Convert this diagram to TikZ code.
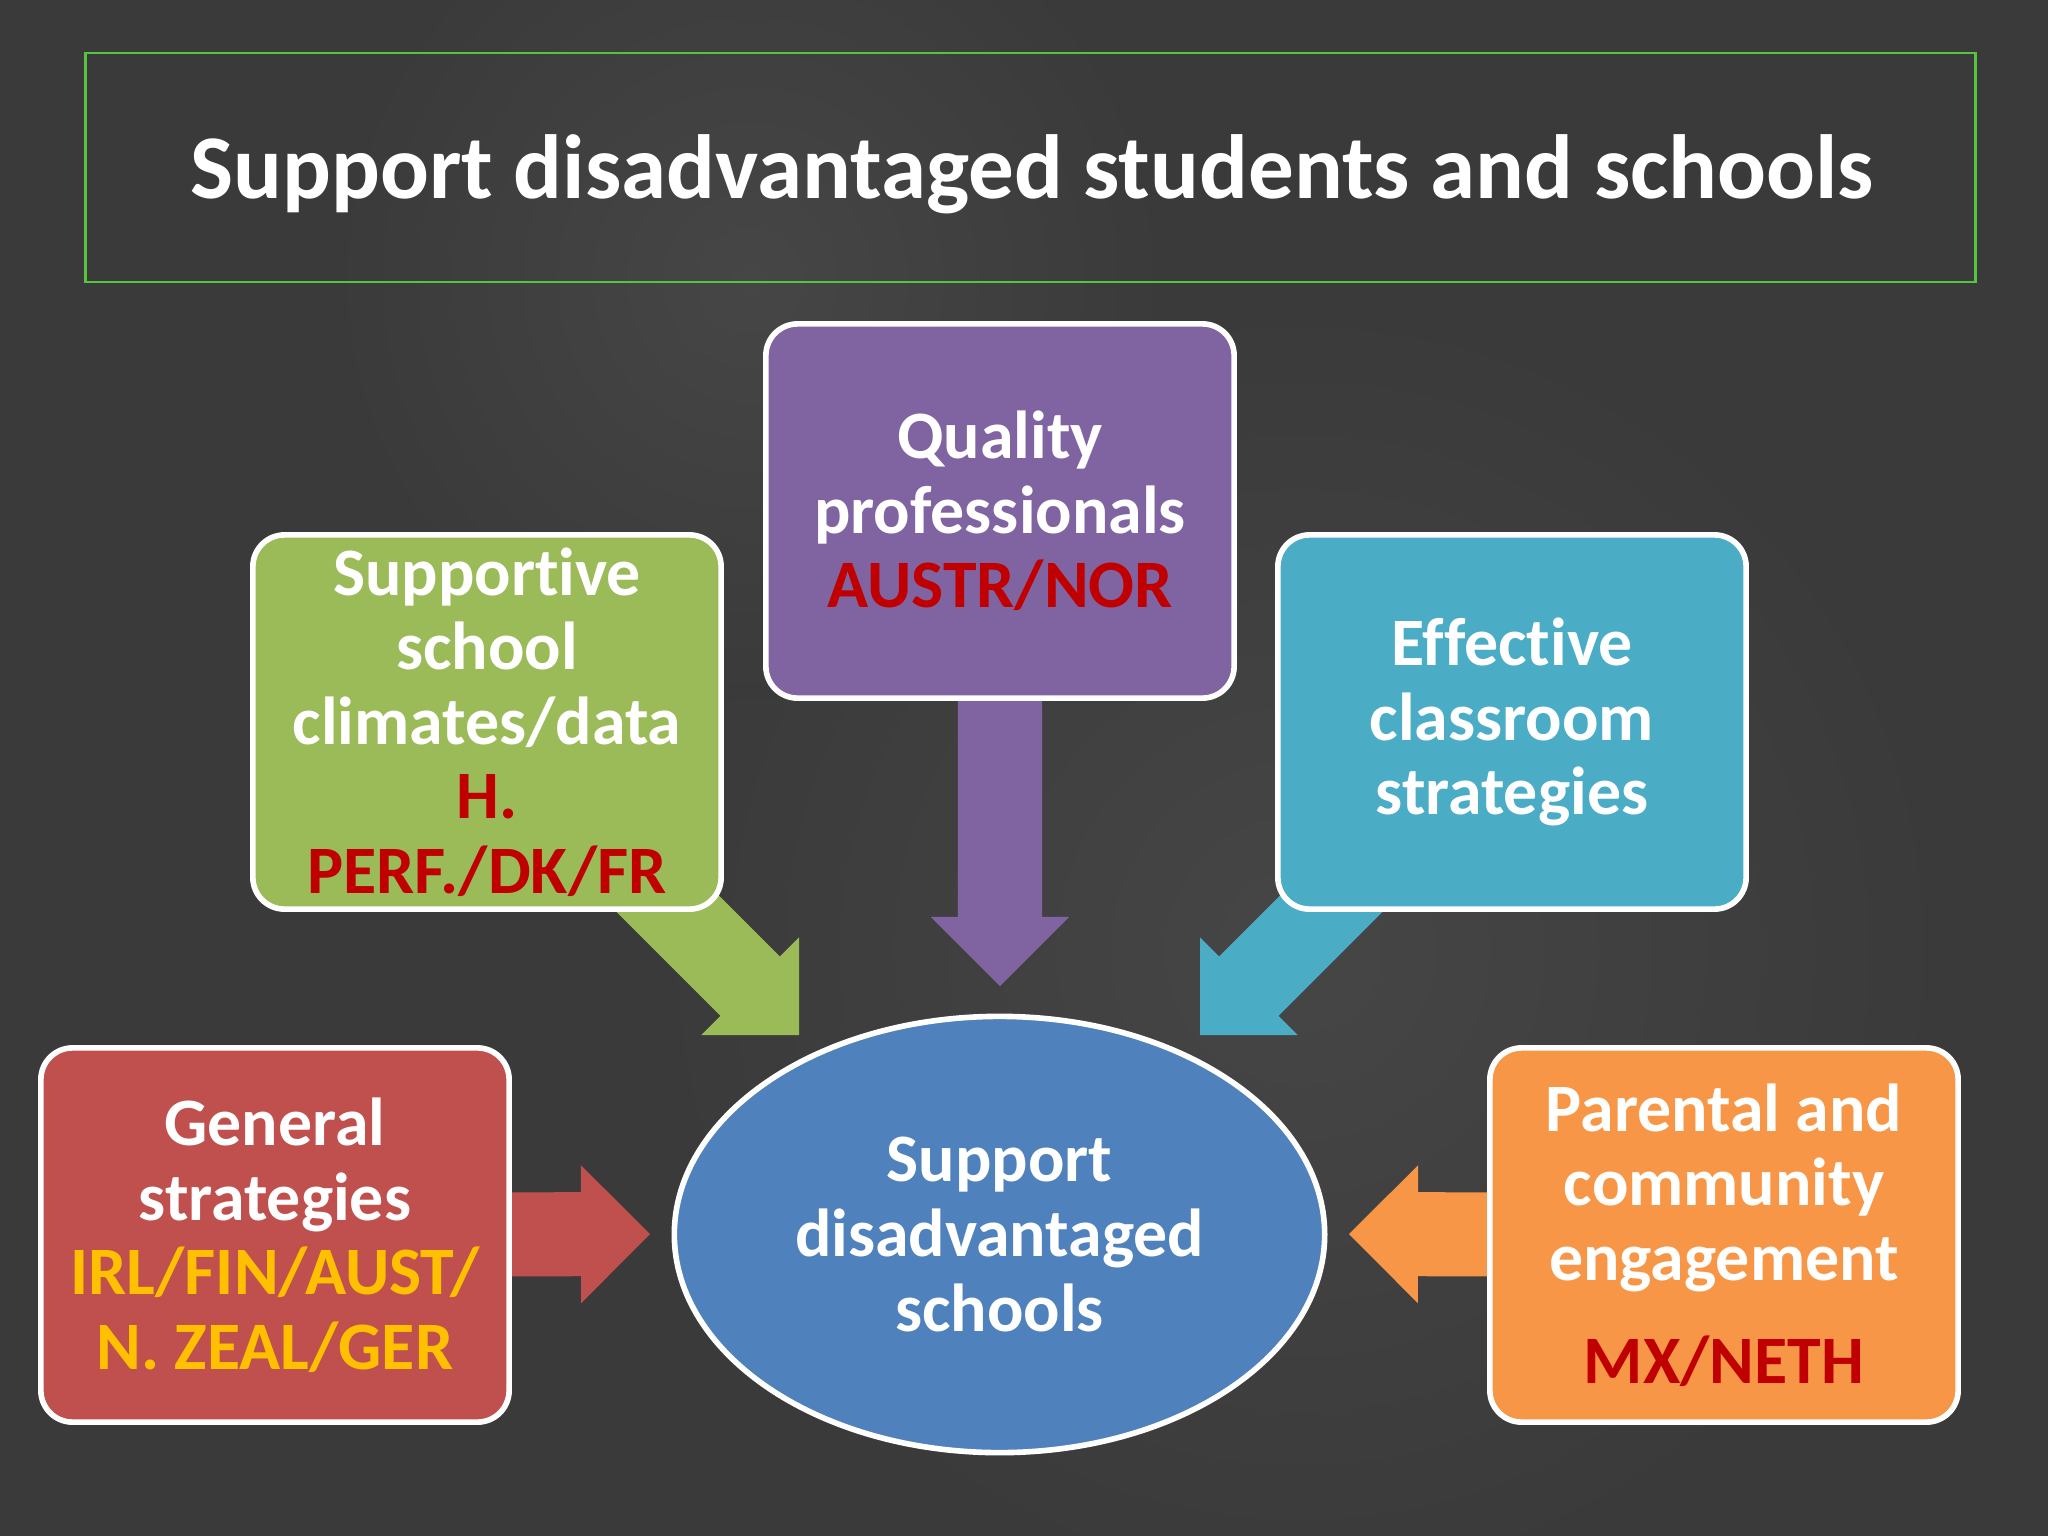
\documentclass[tikz,border=0pt]{standalone}
\usepackage{fontspec}
\setmainfont{Carlito}[Ligatures=NoCommon]
\usetikzlibrary{shapes.geometric,calc}
\definecolor{bgc}{HTML}{3A3A3A}
\definecolor{bgl}{HTML}{464646}
\definecolor{tgreen}{HTML}{55C43F}
\definecolor{cpurple}{HTML}{8064A2}
\definecolor{cgreen}{HTML}{9BBB59}
\definecolor{cblue}{HTML}{4BACC6}
\definecolor{cred}{HTML}{C0504D}
\definecolor{corange}{HTML}{F79646}
\definecolor{cell}{HTML}{4F81BD}
\definecolor{dred}{HTML}{C00000}
\definecolor{gold}{HTML}{FFC000}
\pgfdeclarelayer{bgpage}
\pgfdeclarelayer{arrows}
\pgfsetlayers{bgpage,arrows,main}
\newcommand\boxfont{\bfseries\fontsize{19.3}{21.2}\selectfont}
\newcommand\titlefont{\bfseries\fontsize{25.9}{30}\selectfont}
\tikzset{
  box/.style={draw=white, line width=1.6pt, rounded corners=9pt,
    minimum width=4.68cm, minimum height=3.74cm, inner sep=0pt,
    align=center, text=white, font=\boxfont},
  blob/.style={ellipse, draw=white, line width=1.6pt, fill=cell,
    minimum width=6.5cm, minimum height=4.36cm, inner sep=0pt,
    align=center, text=white, font=\boxfont},
  titlebox/.style={draw=tgreen, line width=0.7pt, minimum width=18.89cm,
    minimum height=2.29cm, inner sep=0pt},
  titletext/.style={text=white, font=\titlefont, inner sep=0pt}
}
\newcommand\blockarrow[3]{%
  \path (#2) coordinate (ba-s) (#3) coordinate (ba-t);
  \coordinate (ba-m) at ($(ba-t)!0.69cm!(ba-s)$);
  \fill[#1] ($(ba-s)!0.42cm!90:(ba-t)$) -- ($(ba-m)!0.42cm!90:(ba-t)$)
    -- ($(ba-m)!0.69cm!90:(ba-t)$) -- (ba-t)
    -- ($(ba-m)!0.69cm!-90:(ba-t)$) -- ($(ba-m)!0.42cm!-90:(ba-t)$)
    -- ($(ba-s)!0.42cm!-90:(ba-t)$) -- cycle;
}
\begin{document}
\begin{tikzpicture}[x=0.01cm,y=-0.01cm]
\useasboundingbox (0,0) rectangle (2048,1536);
\begin{pgfonlayer}{bgpage}
  \fill[bgc] (0,0) rectangle (2048,1536);
  \shade[inner color=bgl, outer color=bgc] (1300,950) circle [radius=650];
  \shade[inner color=bgl, outer color=bgc] (750,280) circle [radius=420];
\end{pgfonlayer}

% title
\node[titlebox] (title) at (1030.5,167.5) {};
\node[titletext, anchor=base] (titletxt) at (1032,198)
  {Support disadvantaged students and schools};

% boxes
\node[box, fill=cpurple] (qual) at (1000,511)
  {Quality\\professionals\\{\color{dred}AUSTR/NOR}};
\node[box, fill=cgreen] (clim) at (487,722)
  {Supportive\\school\\climates/data\\{\color{dred}H.}\\{\color{dred}PERF./DK/FR}};
\node[box, fill=cblue] (class) at (1512,722)
  {Effective\\classroom\\strategies};
\node[box, fill=cred] (gen) at (275,1235)
  {General\\strategies\\{\color{gold}IRL/FIN/AUST/}\\{\color{gold}N. ZEAL/GER}};
\node[box, fill=corange] (par) at (1724,1235)
  {Parental and\\community\\engagement\\[8pt]{\color{dred}MX/NETH}};
\node[blob] (supp) at (999.5,1234.5)
  {Support\\disadvantaged\\schools};

% arrow end points
\coordinate (gstart) at (600,836);
\coordinate (gtip) at (799,1035);
\coordinate (bstart) at (1399,836);
\coordinate (btip) at (1200,1035);
\coordinate (ptip) at (1000,986);
\coordinate (rtip) at (650,1234);
\coordinate (otip) at (1349,1234);

\begin{pgfonlayer}{arrows}
  \blockarrow{cpurple}{qual.center}{ptip}
  \blockarrow{cgreen}{gstart}{gtip}
  \blockarrow{cblue}{bstart}{btip}
  \blockarrow{cred}{gen.center}{rtip}
  \blockarrow{corange}{par.center}{otip}
\end{pgfonlayer}
\end{tikzpicture}
\end{document}
